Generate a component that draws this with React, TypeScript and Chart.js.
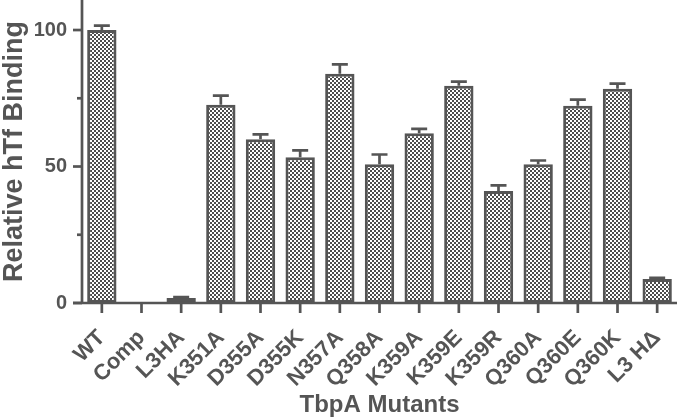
import React, { useEffect, useRef } from "react";
import { Chart, registerables } from "chart.js";

Chart.register(...registerables);

const categories = ["WT", "Comp", "L3HA", "K351A", "D355A", "D355K", "N357A", "Q358A", "K359A", "K359E", "K359R", "Q360A", "Q360E", "Q360K", "L3 H\u0394"];
const values = [100, 0, 1.8, 72.6, 60, 53.4, 84, 50.8, 62.2, 79.6, 41, 50.8, 72.3, 78.5, 8.8];
const errors = [1.6, 0, 0.4, 3.4, 1.8, 2.5, 3.4, 3.6, 1.6, 1.5, 2.1, 1.4, 2.2, 1.9, 0.4];
const yTicks = [0, 25, 50, 75, 100];
const yLabelled = [0, 50, 100];

const INK = "#555555";
const FONT = "'Liberation Sans', Arial, sans-serif";

function makePattern(): CanvasPattern | string {
  const c = document.createElement("canvas");
  c.width = 4;
  c.height = 4;
  const g = c.getContext("2d");
  if (!g) return "#999";
  g.fillStyle = "#ffffff";
  g.fillRect(0, 0, 4, 4);
  g.fillStyle = "#4d4d4d";
  g.fillRect(0, 0, 2, 2);
  g.fillRect(2, 2, 2, 2);
  const p = g.createPattern(c, "repeat");
  return p || "#999";
}

const axesPlugin = {
  id: "customAxes",
  afterDatasetsDraw(chart: any) {
    const { ctx, chartArea, scales } = chart;
    const xs = scales.x;
    const ys = scales.y;
    ctx.save();
    ctx.strokeStyle = INK;
    ctx.lineWidth = 2.7;
    ctx.lineCap = "butt";
    // error bars (upper half)
    const meta = chart.getDatasetMeta(0);
    values.forEach((v, i) => {
      const bar = meta.data[i];
      if (!bar || errors[i] <= 0) return;
      const x = bar.x;
      const yv = ys.getPixelForValue(v);
      const ye = ys.getPixelForValue(v + errors[i]);
      ctx.beginPath();
      ctx.moveTo(x, yv);
      ctx.lineTo(x, ye);
      ctx.moveTo(x - 8, ye);
      ctx.lineTo(x + 8, ye);
      ctx.stroke();
    });
    // y axis line
    ctx.beginPath();
    ctx.moveTo(chartArea.left, chartArea.top);
    ctx.lineTo(chartArea.left, chartArea.bottom);
    ctx.stroke();
    // x axis line
    ctx.beginPath();
    ctx.moveTo(chartArea.left - 9, chartArea.bottom);
    ctx.lineTo(chartArea.right, chartArea.bottom);
    ctx.stroke();
    // y ticks (major / minor)
    yTicks.forEach((t) => {
      const y = ys.getPixelForValue(t);
      const len = yLabelled.includes(t) ? 9 : 5;
      ctx.beginPath();
      ctx.moveTo(chartArea.left - len, y);
      ctx.lineTo(chartArea.left, y);
      ctx.stroke();
    });
    // x ticks
    categories.forEach((_, i) => {
      const x = xs.getPixelForValue(i);
      ctx.beginPath();
      ctx.moveTo(x, chartArea.bottom);
      ctx.lineTo(x, chartArea.bottom + 10);
      ctx.stroke();
    });
    ctx.restore();
  },
};

export default function App() {
  const ref = useRef<HTMLCanvasElement | null>(null);
  useEffect(() => {
    if (!ref.current) return;
    const pattern = makePattern();
    const chart = new Chart(ref.current, {
      type: "bar",
      data: {
        labels: categories,
        datasets: [
          {
            data: values,
            backgroundColor: pattern as any,
            borderColor: INK,
            borderWidth: 3,
            borderSkipped: false,
            barPercentage: 0.74,
            categoryPercentage: 1,
          },
        ],
      },
      options: {
        animation: false,
        responsive: true,
        maintainAspectRatio: false,
        devicePixelRatio: 1,
        layout: { padding: { top: 0, right: 3, left: 0, bottom: 0 } },
        plugins: {
          legend: { display: false },
          tooltip: { enabled: false },
        },
        scales: {
          x: {
            type: "category",
            offset: true,
            grid: { display: false, drawTicks: false },
            border: { display: false },
            ticks: {
              autoSkip: false,
              minRotation: 45,
              maxRotation: 45,
              padding: 22,
              color: INK,
              font: { family: FONT, size: 22, weight: "bold" },
            },
            title: {
              display: true,
              text: "TbpA Mutants",
              color: INK,
              font: { family: FONT, size: 24, weight: "bold", lineHeight: 1.2 },
              padding: { top: 0, bottom: 0.5 },
            },
            afterFit(scale: any) {
              scale.height = 117;
              scale.paddingLeft = 0;
              scale.paddingRight = 0;
            },
          },
          y: {
            min: 0,
            max: 111,
            grid: { display: false, drawTicks: false },
            border: { display: false },
            afterBuildTicks(scale: any) {
              scale.ticks = yTicks.map((v) => ({ value: v }));
            },
            ticks: {
              padding: 15,
              color: INK,
              font: { family: FONT, size: 20, weight: "bold" },
              callback: (v: any) => (yLabelled.includes(Number(v)) ? String(v) : ""),
            },
            title: {
              display: true,
              text: "Relative hTf Binding",
              color: INK,
              font: { family: FONT, size: 27, weight: "bold", lineHeight: 1.05 },
              padding: { top: 0, bottom: 0 },
            },
            afterFit(scale: any) {
              scale.width = 82;
              scale.paddingTop = 0;
              scale.paddingBottom = 0;
            },
          },
        },
      },
      plugins: [axesPlugin],
    });
    return () => chart.destroy();
  }, []);
  return (
    <div style={{ position: "fixed", left: 0, top: 0, width: 680, height: 420, background: "#fff" }}>
      <canvas ref={ref} />
    </div>
  );
}
